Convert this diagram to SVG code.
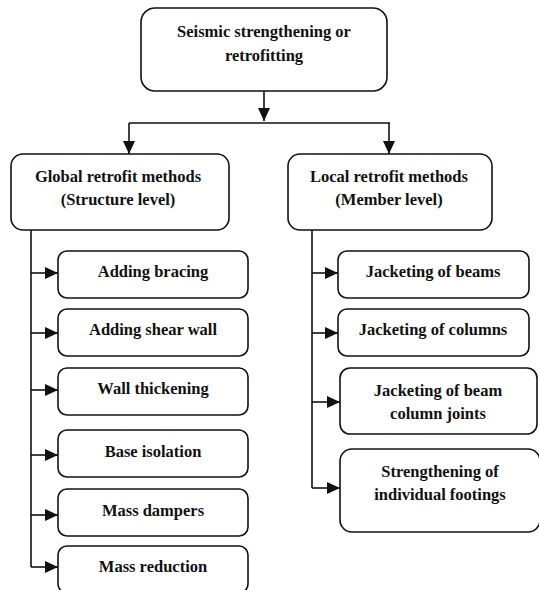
<svg xmlns="http://www.w3.org/2000/svg" width="539" height="590" viewBox="0 0 539 590">
<style>
.box{fill:#fff;stroke:#111;stroke-width:1.6}
.t{font-family:"Liberation Serif","Times New Roman",serif;font-weight:bold;font-size:16.5px;fill:#111;text-anchor:middle}
.c{fill:none;stroke:#111;stroke-width:1.6}
</style>
<defs>
<marker id="ah" markerUnits="userSpaceOnUse" markerWidth="14" markerHeight="12" refX="13" refY="6" orient="auto">
<path d="M0,0 L13,6 L0,12 z" fill="#111"/>
</marker>
</defs>
<rect width="539" height="590" fill="#fff"/>
<g id="connectors">
<line class="c" x1="264" y1="91" x2="264" y2="121" marker-end="url(#ah)"/>
<line class="c" x1="129" y1="123" x2="390" y2="123"/>
<line class="c" x1="129" y1="123" x2="129" y2="154" marker-end="url(#ah)"/>
<line class="c" x1="389" y1="123" x2="389" y2="154" marker-end="url(#ah)"/>
<line class="c" x1="31" y1="230" x2="31" y2="567"/>
<line class="c" x1="31" y1="273" x2="58" y2="273" marker-end="url(#ah)"/>
<line class="c" x1="31" y1="333" x2="58" y2="333" marker-end="url(#ah)"/>
<line class="c" x1="31" y1="390" x2="58" y2="390" marker-end="url(#ah)"/>
<line class="c" x1="31" y1="455" x2="58" y2="455" marker-end="url(#ah)"/>
<line class="c" x1="31" y1="515" x2="58" y2="515" marker-end="url(#ah)"/>
<line class="c" x1="31" y1="567" x2="58" y2="567" marker-end="url(#ah)"/>
<line class="c" x1="312" y1="230" x2="312" y2="488"/>
<line class="c" x1="312" y1="273" x2="338" y2="273" marker-end="url(#ah)"/>
<line class="c" x1="312" y1="333" x2="338" y2="333" marker-end="url(#ah)"/>
<line class="c" x1="312" y1="402" x2="340" y2="402" marker-end="url(#ah)"/>
<line class="c" x1="312" y1="488" x2="340" y2="488" marker-end="url(#ah)"/>
</g>
<g id="root">
<rect class="box" x="141" y="8" width="246" height="83" rx="14"/>
<text class="t" x="264" y="37">Seismic strengthening or</text>
<text class="t" x="264" y="61">retrofitting</text>
</g>
<g id="global">
<rect class="box" x="11" y="154" width="218" height="76" rx="12"/>
<text class="t" x="118" y="182">Global retrofit methods</text>
<text class="t" x="118" y="205">(Structure level)</text>
</g>
<g id="local">
<rect class="box" x="288" y="154" width="204" height="76" rx="12"/>
<text class="t" x="389" y="182">Local retrofit methods</text>
<text class="t" x="389" y="205">(Member level)</text>
</g>
<g id="g1">
<rect class="box" x="58" y="251" width="190" height="47" rx="9"/>
<text class="t" x="153" y="277">Adding bracing</text>
</g>
<g id="g2">
<rect class="box" x="58" y="309" width="190" height="47" rx="9"/>
<text class="t" x="153" y="335">Adding shear wall</text>
</g>
<g id="g3">
<rect class="box" x="58" y="368" width="190" height="47" rx="9"/>
<text class="t" x="153" y="394">Wall thickening</text>
</g>
<g id="g4">
<rect class="box" x="58" y="430" width="190" height="47" rx="9"/>
<text class="t" x="153" y="457">Base isolation</text>
</g>
<g id="g5">
<rect class="box" x="58" y="489" width="190" height="47" rx="9"/>
<text class="t" x="153" y="516">Mass dampers</text>
</g>
<g id="g6">
<rect class="box" x="58" y="546" width="190" height="47" rx="9"/>
<text class="t" x="153" y="572">Mass reduction</text>
</g>
<g id="l1">
<rect class="box" x="338" y="251" width="191" height="47" rx="9"/>
<text class="t" x="433" y="277">Jacketing of beams</text>
</g>
<g id="l2">
<rect class="box" x="338" y="309" width="191" height="47" rx="9"/>
<text class="t" x="433" y="335">Jacketing of columns</text>
</g>
<g id="l3">
<rect class="box" x="340" y="368" width="197" height="66" rx="10"/>
<text class="t" x="438" y="396">Jacketing of beam</text>
<text class="t" x="438" y="419">column joints</text>
</g>
<g id="l4">
<rect class="box" x="340" y="449" width="200" height="83" rx="12"/>
<text class="t" x="440" y="477">Strengthening of</text>
<text class="t" x="440" y="500">individual footings</text>
</g>
</svg>
